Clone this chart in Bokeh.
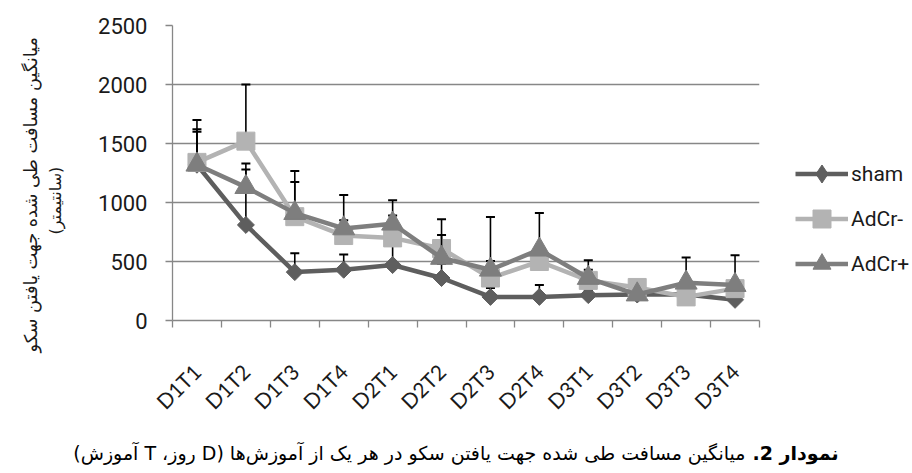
import math
from bokeh.plotting import figure
from bokeh.layouts import column, row
from bokeh.models import (Range1d, FixedTicker, CustomJSTickFormatter, Legend,
                          LegendItem, Label)
from bokeh.embed import file_html
from bokeh.resources import INLINE

# ---------------- data ----------------
categories = ["D1T1", "D1T2", "D1T3", "D1T4", "D2T1", "D2T2",
              "D2T3", "D2T4", "D3T1", "D3T2", "D3T3", "D3T4"]
sham = [1320, 810, 410, 430, 470, 360, 200, 200, 215, 220, 220, 175]
sham_err = [300, 520, 160, 130, 170, 120, 75, 100, 40, 40, 40, 40]
adcr_minus = [1340, 1520, 880, 720, 700, 610, 360, 500, 340, 280, 200, 270]
adcr_minus_err = [360, 480, 387, 129, 190, 247, 517, 60, 90, 50, 40, 40]
adcr_plus = [1320, 1130, 910, 780, 820, 530, 430, 600, 360, 220, 320, 300]
adcr_plus_err = [280, 150, 263, 283, 200, 195, 75, 310, 150, 20, 213, 252]
series_names = ["sham", "AdCr-", "AdCr+"]
y_ticks = [0, 500, 1000, 1500, 2000, 2500]
y_title_1 = "میانگین مسافت طی شده جهت یافتن سکو"
y_title_2 = "(سانتیمتر)"
caption_bold = "نمودار 2."
caption_rest = "میانگین مسافت طی شده جهت یافتن سکو در هر یک از آموزش‌ها (D روز، T آموزش)"

# ---------------- layout (page pixels) ----------------
TOTAL_W = 910
LEFT_W = 90                 # strip that holds the y-axis title
MAIN_R = 770                # right edge of the chart figure
TOP_H = 425                 # chart row height
CAP_H = 45                  # caption strip height
F_LEFT, F_RIGHT, F_TOP, F_BOTTOM = 172, 759, 25, 328   # plot frame in page px
RLE, PDF = "\u202b", "\u202c"

def bare_figure(w, h):
    f = figure(width=w, height=h, x_range=Range1d(0, w), y_range=Range1d(0, h),
               title=None, output_backend="svg", toolbar_location=None,
               x_axis_location=None, y_axis_location=None,
               min_border_left=0, min_border_right=0, min_border_top=0,
               min_border_bottom=0)
    f.frame_align = False
    f.grid.visible = False
    f.outline_line_color = None
    f.background_fill_color = "white"
    f.border_fill_color = "white"
    return f

# ---------------- main chart ----------------
p = figure(width=MAIN_R - LEFT_W, height=TOP_H, title=None,
           x_range=Range1d(0, len(categories)), y_range=Range1d(0, 2500),
           output_backend="svg", toolbar_location=None,
           min_border_left=F_LEFT - LEFT_W, min_border_right=MAIN_R - F_RIGHT,
           min_border_top=F_TOP, min_border_bottom=TOP_H - F_BOTTOM)
p.frame_align = False
p.outline_line_color = None
p.background_fill_color = "white"
p.border_fill_color = "white"

GRID = "#878787"
p.xgrid.visible = False
p.ygrid.ticker = FixedTicker(ticks=y_ticks)
p.ygrid.grid_line_color = GRID
p.ygrid.grid_line_width = 1.3

yax = p.yaxis[0]
yax.ticker = FixedTicker(ticks=y_ticks, minor_ticks=[])
yax.axis_line_color = GRID
yax.axis_line_width = 1.3
yax.major_tick_line_color = GRID
yax.major_tick_line_width = 1.3
yax.major_tick_in = 0
yax.major_tick_out = 7
yax.minor_tick_line_color = None
yax.major_label_text_font = "Roboto"
yax.major_label_text_font_size = "22px"
yax.major_label_text_color = "#1a1a1a"
yax.major_label_standoff = 18

xs = [i + 0.5 for i in range(len(categories))]
xax = p.xaxis[0]
xax.ticker = FixedTicker(ticks=xs, minor_ticks=list(range(len(categories) + 1)))
xax.axis_line_color = GRID
xax.axis_line_width = 1.3
xax.major_tick_line_color = None
xax.minor_tick_line_color = GRID
xax.minor_tick_line_width = 1.3
xax.minor_tick_in = 0
xax.minor_tick_out = 7
xax.formatter = CustomJSTickFormatter(args=dict(labels=categories),
                                      code="return labels[Math.floor(tick)] || '';")
xax.major_label_orientation = math.pi / 4
xax.major_label_text_font = "Lato"
xax.major_label_text_font_size = "21px"
xax.major_label_text_color = "#1a1a1a"
xax.major_label_standoff = 40

colors = ["#5e5e5e", "#b3b3b3", "#7e7e7e"]
means = [sham, adcr_minus, adcr_plus]
errs = [sham_err, adcr_minus_err, adcr_plus_err]
markers = [dict(marker="square", size=12, angle=math.pi / 4),
           dict(marker="square", size=18),
           dict(marker="triangle", size=22)]
legend_markers = ["diamond", "square", "triangle"]

for name, col, m, e, mk in zip(series_names, colors, means, errs, markers):
    p.line(xs, m, line_color=col, line_width=4.5)
    tops = [a + b for a, b in zip(m, e)]
    p.segment(xs, m, xs, tops, line_color="black", line_width=1.6)
    p.scatter(xs, tops, marker="dash", size=9, line_color="black", line_width=2)
    p.scatter(xs, m, fill_color=col, line_color=col, **mk)

# ---------------- legend strip ----------------
NAN = [float("nan")]
gf = bare_figure(TOTAL_W - MAIN_R, TOP_H)
items = []
for name, col, lm in zip(series_names, colors, legend_markers):
    ln = gf.line(x=NAN, y=NAN, line_color=col, line_width=4.5)
    sc = gf.scatter(x=NAN, y=NAN, marker=lm, fill_color=col, line_color=col)
    items.append(LegendItem(label=name, renderers=[ln, sc]))
legend = Legend(items=items, location=(25, 139))
legend.glyph_width = 53
legend.glyph_height = 45
legend.label_height = 45
legend.label_standoff = 3
legend.spacing = 0
legend.padding = 0
legend.margin = 0
legend.border_line_color = None
legend.background_fill_alpha = 0
legend.label_text_font = "Roboto"
legend.label_text_font_size = "21px"
legend.label_text_color = "#1a1a1a"
gf.add_layout(legend, "center")

# ---------------- y-axis title strip ----------------
lf = bare_figure(LEFT_W, TOP_H)
lf.add_layout(Label(x=30, y=TOP_H - 352, text=y_title_1, angle=math.pi / 2,
                    text_align="left", text_baseline="middle",
                    text_font="DejaVu Sans", text_font_size="17.8px",
                    text_color="#1a1a1a"))
lf.add_layout(Label(x=55, y=TOP_H - 234, text=y_title_2, angle=math.pi / 2,
                    text_align="left", text_baseline="middle",
                    text_font="DejaVu Sans", text_font_size="16px",
                    text_color="#1a1a1a"))

# ---------------- caption strip ----------------
cf = bare_figure(TOTAL_W, CAP_H)
CAP_Y = TOP_H + CAP_H - 452
cf.add_layout(Label(x=838, y=CAP_Y, text=RLE + caption_bold + PDF, text_align="right",
                    text_baseline="middle", text_font="DejaVu Sans",
                    text_font_size="19px", text_font_style="bold",
                    text_color="black"))
cf.add_layout(Label(x=745, y=CAP_Y, text=RLE + caption_rest + PDF,
                    text_align="right", text_baseline="middle",
                    text_font="DejaVu Sans", text_font_size="19px",
                    text_color="black"))

page = column(row(lf, p, gf), cf)
open("out.html", "w").write(file_html(page, INLINE))
